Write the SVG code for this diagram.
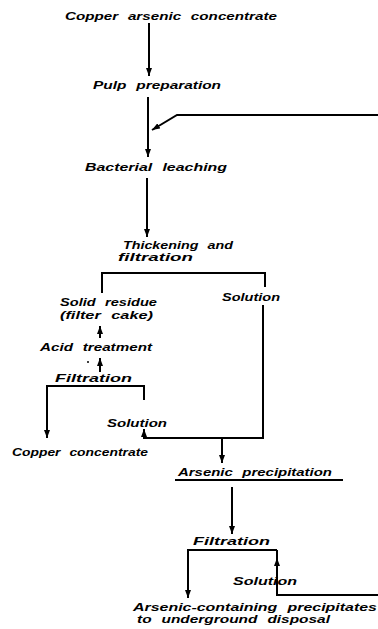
<svg xmlns="http://www.w3.org/2000/svg" width="378" height="629" viewBox="0 0 378 629">
<defs>
<marker id="ah" viewBox="0 0 8 6" refX="8" refY="3" markerWidth="8" markerHeight="6" markerUnits="userSpaceOnUse" orient="auto">
<path d="M0,0 L8,3 L0,6 z" fill="#000"/>
</marker>
<style>
text{font-family:"Liberation Sans",Arial,sans-serif;font-weight:bold;font-style:italic;font-size:11px;word-spacing:4px;fill:#000}
.ln{fill:none;stroke:#000;stroke-width:2}
.ar{fill:none;stroke:#000;stroke-width:2;marker-end:url(#ah)}
</style>
</defs>
<rect width="378" height="629" fill="#fff"/>
<g id="connectors">
<line class="ar" x1="149" y1="23" x2="149" y2="76"/>
<line class="ar" x1="148" y1="97" x2="148" y2="157"/>
<polyline class="ar" points="378,115 177,115 152,130"/>
<line class="ar" x1="147" y1="178" x2="147" y2="237"/>
<polyline class="ln" points="102,293 102,273 265,273 265,287"/>
<line class="ar" x1="100" y1="338" x2="100" y2="326"/>
<line class="ar" x1="100" y1="372" x2="100" y2="358"/>
<circle cx="88" cy="362" r="1" fill="#000"/>
<polyline class="ar" points="144,400 144,386 47,386 47,438"/>
<polyline class="ar" points="263,305 263,438 144,438 144,429"/>
<line class="ar" x1="222" y1="438" x2="222" y2="463"/>
<line class="ln" x1="175" y1="480" x2="343" y2="480"/>
<line class="ar" x1="232" y1="487" x2="232" y2="534"/>
<polyline class="ar" points="277,550 188,550 188,598"/>
<polyline class="ln" points="378,595 277,595 277,550"/>
<line class="ar" x1="277" y1="570" x2="277" y2="558"/>
</g>
<g id="n1"><text x="65" y="20" textLength="212" lengthAdjust="spacingAndGlyphs">Copper arsenic concentrate</text></g>
<g id="n2"><text x="93" y="89" textLength="128" lengthAdjust="spacingAndGlyphs">Pulp preparation</text></g>
<g id="n3"><text x="85" y="171" textLength="142" lengthAdjust="spacingAndGlyphs">Bacterial leaching</text></g>
<g id="n4"><text x="123" y="249" textLength="110" lengthAdjust="spacingAndGlyphs">Thickening and</text><text x="118" y="261" textLength="75" lengthAdjust="spacingAndGlyphs">filtration</text></g>
<g id="n5"><text x="60" y="306" textLength="97" lengthAdjust="spacingAndGlyphs">Solid residue</text><text x="60" y="319" textLength="93" lengthAdjust="spacingAndGlyphs">(filter cake)</text></g>
<g id="n6"><text x="222" y="301" textLength="58" lengthAdjust="spacingAndGlyphs">Solution</text></g>
<g id="n7"><text x="40" y="351" textLength="112" lengthAdjust="spacingAndGlyphs">Acid treatment</text></g>
<g id="n8"><text x="55" y="382" textLength="77" lengthAdjust="spacingAndGlyphs">Filtration</text></g>
<g id="n9"><text x="107" y="427" textLength="60" lengthAdjust="spacingAndGlyphs">Solution</text></g>
<g id="n10"><text x="12" y="456" textLength="136" lengthAdjust="spacingAndGlyphs">Copper concentrate</text></g>
<g id="n11"><text x="178" y="476" textLength="154" lengthAdjust="spacingAndGlyphs">Arsenic precipitation</text></g>
<g id="n12"><text x="193" y="545" textLength="77" lengthAdjust="spacingAndGlyphs">Filtration</text></g>
<g id="n13"><text x="233" y="585" textLength="64" lengthAdjust="spacingAndGlyphs">Solution</text></g>
<g id="n14"><text x="133" y="611" textLength="244" lengthAdjust="spacingAndGlyphs">Arsenic-containing precipitates</text><text x="137" y="623" textLength="193" lengthAdjust="spacingAndGlyphs">to underground disposal</text></g>
</svg>
